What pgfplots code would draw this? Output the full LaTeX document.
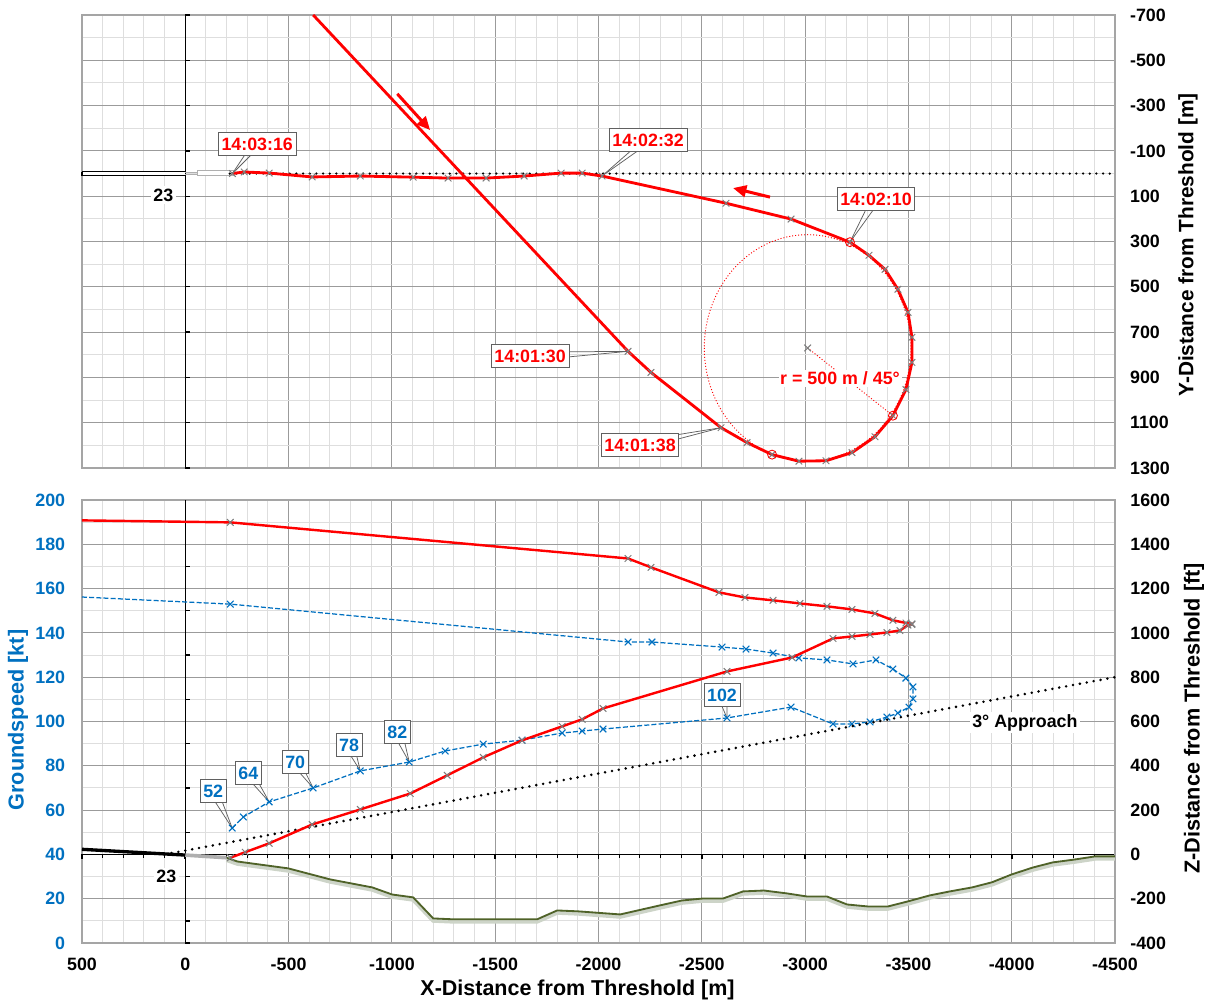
\documentclass[border=0pt]{standalone}
\usepackage{fontspec}
\setmainfont{Liberation Sans}
\usepackage{pgfplots}
\usepackage{pgfplotstable}
\pgfplotsset{compat=1.18}
\usetikzlibrary{arrows.meta}

\definecolor{myred}{RGB}{255,0,0}
\definecolor{myblue}{RGB}{0,112,192}
\definecolor{gmaj}{RGB}{155,155,155}
\definecolor{gmin}{RGB}{222,222,222}
\definecolor{frame}{RGB}{165,165,165}
\definecolor{terr}{RGB}{79,98,40}
\definecolor{shadowc}{RGB}{205,212,200}
\definecolor{mk}{RGB}{125,125,125}
\definecolor{rwgray}{RGB}{175,175,175}

\newcommand{\tfont}{\fontsize{10.7}{12}\selectfont\bfseries}

\pgfplotsset{
  base/.style={
    scale only axis, width=619.8pt,
    xmin=-4500, xmax=500, x dir=reverse,
    xtick={-4500,-4000,...,500},
    minor x tick num=4,
    major tick length=0pt, minor tick length=0pt,
    tick style={draw=none},
    axis line style={draw=frame, line width=0.8pt},
    tick label style={font=\tfont},
    /pgf/number format/assume math mode=true,
    /pgf/number format/1000 sep={},
    clip=false,
  },
  gridded/.style={
    grid=both,
    major grid style={draw=gmaj, line width=0.6pt},
    minor grid style={draw=gmin, line width=0.6pt},
  },
}
\tikzset{callbox/.style={draw=gray!75!black, line width=0.5pt, fill=white, inner xsep=1.9pt, inner ysep=3pt, text height=7.8pt, text depth=0pt, font=\tfont}}

\newcommand{\callout}[8]{%
  \draw[gray!75!black, line width=0.45pt] (axis cs:#2,#3) -- ([shift={(#6,#7)}]axis cs:#4,#5);
  \draw[gray!75!black, line width=0.45pt] (axis cs:#2,#3) -- ([shift={(-#6,-#7)}]axis cs:#4,#5);
  \node[callbox, text=#1] at (axis cs:#4,#5) {#8};
}

\pgfplotstableread{
x y
-619 -700
-2143 785
-2254 878
-2593 1122
-2719 1188
-2840 1241
-2970 1270
-3101 1268
-3227 1232
-3338 1162
-3425 1069
-3488 954
-3517 834
-3517 723
-3498 613
-3449 511
-3387 423
-3309 361
-3217 303
-2932 201
-2617 131
-2017 11
-1921 -2
-1819 -2
-1640 11
-1456 20
-1272 20
-1103 16
-847 11
-614 15
-406 -2
-285 -7
-228 0
}\toptraj

\pgfplotstableread{
x z
500 1508
-218 1499
-2143 1336
-2254 1296
-2583 1183
-2709 1160
-2845 1147
-2975 1133
-3106 1120
-3227 1106
-3338 1088
-3425 1057
-3488 1045
-3517 1041
-3517 1038
-3498 1035
-3459 1011
-3396 1002
-3314 993
-3227 984
-3135 975
-2937 889
-2622 826
-2022 659
-1921 610
-1824 578
-1630 515
-1442 438
-1268 357
-1089 275
-847 203
-614 135
-406 50
-290 10
-218 -15
}\altdata

\pgfplotstableread{
x gs
500 156.2
-218 153.0
-2143 135.9
-2259 135.9
-2598 133.6
-2714 132.7
-2845 130.9
-2970 128.7
-3106 127.8
-3232 126.0
-3343 127.8
-3425 123.7
-3488 119.6
-3522 115.6
-3522 110.2
-3503 106.5
-3449 103.8
-3396 102.0
-3314 99.8
-3227 98.9
-3135 98.9
-2932 106.5
-2622 101.6
-2022 96.6
-1921 95.7
-1824 94.8
-1630 91.6
-1442 89.8
-1258 86.7
-1084 81.7
-847 77.7
-619 70.0
-406 63.7
-281 56.9
-227 51.9
}\gsdata

\pgfplotstableread{
x z
-200 -15
-252 -32
-498 -63
-702 -113
-905 -149
-1001 -181
-1103 -194
-1200 -289
-1297 -293
-1393 -293
-1703 -293
-1800 -253
-1901 -257
-2105 -271
-2298 -230
-2404 -208
-2506 -199
-2603 -199
-2700 -167
-2801 -163
-2912 -176
-3009 -190
-3106 -190
-3203 -226
-3304 -235
-3401 -235
-3498 -212
-3604 -185
-3701 -167
-3808 -149
-3904 -126
-4001 -90
-4103 -59
-4199 -36
-4305 -23
-4403 -9
-4500 -9
}\terrain

\begin{document}
\begin{tikzpicture}
\useasboundingbox (0,0) rectangle (730.2pt,-601.8pt);

% ---------------- top: plan view ----------------
\begin{axis}[base, gridded, at={(49.2pt,-9pt)}, anchor=north west, height=271.8pt,
  ymin=-700, ymax=1300, y dir=reverse,
  ytick={-700,-500,...,1300}, minor y tick num=1,
  yticklabel pos=right, yticklabel style={xshift=5.5pt},
  xticklabels={}, disabledatascaling]
\addplot[black, line width=0.9pt] coordinates {(0,-700) (0,1300)};
\addplot[draw=black, line width=0.9pt, fill=white] coordinates {(500,-9) (0,-9) (0,9) (500,9) (500,-9)};
\addplot[draw=rwgray, line width=0.6pt] coordinates {(0,-5) (-58,-5)};
\addplot[draw=rwgray, line width=0.6pt] coordinates {(0,5) (-58,5)};
\addplot[draw=rwgray, line width=0.7pt, fill=white] coordinates {(-58,-15) (-232,-15) (-232,9) (-58,9) (-58,-15)};
\addplot[black, line width=1.5pt, dash pattern=on 0pt off 4pt, line cap=round] coordinates {(-215,0) (-4500,0)};
\addplot[myred, line width=1.7pt] table {\toptraj};
\addplot[only marks, mark=x, mark size=2.8pt, mark options={mk, line width=0.6pt}, skip coords between index={0}{1}] table {\toptraj};
\addplot[only marks, mark=o, mark size=2.7pt, mark options={myred, line width=0.5pt}] coordinates {(-2840,1241) (-3425,1069) (-3217,303)};
\addplot[only marks, mark=x, mark size=2.8pt, mark options={mk, line width=0.6pt}] coordinates {(-3012,770)};
\pgfplotsinvokeforeach{-700,-500,...,1300}{\draw[black, line width=0.8pt] (axis cs:0,#1) -- ++(3pt,0pt);}
\draw[myred, line width=0.55pt, dash pattern=on 0.6pt off 1.2pt] (axis cs:-3012,770) ellipse [x radius=500, y radius=500];
\draw[myred, line width=0.55pt, dash pattern=on 0.6pt off 1.2pt] (axis cs:-3012,770) -- (axis cs:-3425,1069);
\node[fill=white, inner sep=1pt, text=myred, font=\tfont] at (axis cs:-3169,905) {r = 500 m / 45°};
\draw[myred, line width=1.8pt, -{Triangle[length=8pt,width=7pt]}] (axis cs:-1026,-352) -- (axis cs:-1185,-192);
\draw[myred, line width=1.8pt, -{Triangle[length=8pt,width=7pt]}] (axis cs:-2830,104) -- (axis cs:-2651,64);
\callout{myred}{-228}{0}{-348}{-131}{3pt}{0pt}{14:03:16}
\callout{myred}{-2017}{11}{-2240}{-148}{3pt}{0pt}{14:02:32}
\callout{myred}{-3217}{303}{-3343}{113}{3pt}{0pt}{14:02:10}
\callout{myred}{-2143}{785}{-1669}{807}{0pt}{2.5pt}{14:01:30}
\callout{myred}{-2593}{1122}{-2201}{1198}{0pt}{2.5pt}{14:01:38}
\node[fill=white, inner sep=1.5pt, font=\tfont] at (axis cs:106,95) {23};
\end{axis}

% ---------------- bottom: groundspeed ----------------
\begin{axis}[base, gridded, at={(49.2pt,-300pt)}, anchor=north west, height=265.8pt,
  ymin=0, ymax=200, ytick={0,20,...,200}, minor y tick num=1,
  yticklabel style={text=myblue, xshift=-6.6pt},
  xticklabel style={yshift=-5.4pt}]
\addplot[black, line width=0.9pt] coordinates {(0,0) (0,200)};
\addplot[black, line width=0.9pt] coordinates {(500,40) (-4500,40)};
\addplot[myblue, line width=0.75pt, dash pattern=on 3pt off 1.3pt] table {\gsdata};
\addplot[only marks, mark=x, mark size=2.8pt, mark options={myblue, line width=0.65pt, solid}, skip coords between index={0}{1}] table {\gsdata};
\pgfplotsinvokeforeach{0,10,30,50,70,90,110,130,150,170,190}{\draw[black, line width=0.8pt] (axis cs:0,#1) -- ++(3pt,0pt);}
\pgfplotsinvokeforeach{-4400,-4300,...,400}{\draw[black, line width=0.6pt] (axis cs:#1,40) -- ++(0pt,-2.2pt);}
\pgfplotsinvokeforeach{-4500,-4000,...,500}{\draw[black, line width=1pt] (axis cs:#1,40) -- ++(0pt,-2.8pt);}
\callout{myblue}{-227}{51.9}{-135}{68.6}{3pt}{0pt}{52}
\callout{myblue}{-406}{63.7}{-305}{76.7}{3pt}{0pt}{64}
\callout{myblue}{-619}{70.0}{-532}{81.7}{3pt}{0pt}{70}
\callout{myblue}{-847}{77.7}{-793}{89.4}{3pt}{0pt}{78}
\callout{myblue}{-1084}{81.7}{-1026}{95.3}{3pt}{0pt}{82}
\callout{myblue}{-2622}{101.6}{-2598}{112}{3pt}{0pt}{102}
\end{axis}

% ---------------- bottom: altitude ----------------
\begin{axis}[base, at={(49.2pt,-300pt)}, anchor=north west, height=265.8pt,
  ymin=-400, ymax=1600, ytick={-400,-200,...,1600},
  axis y line*=right, axis x line=none,
  yticklabel style={xshift=5.7pt}]
\addplot[shadowc, line width=2.6pt, yshift=-1.3pt] table {\terrain};
\addplot[terr, line width=1.1pt] table {\terrain};
\addplot[black, line width=2pt] coordinates {(500,23) (0,-3)};
\addplot[rwgray, line width=2.2pt] coordinates {(0,-3) (-200,-15)};
\addplot[black, line width=1.7pt, dash pattern=on 0pt off 4.2pt, line cap=round] coordinates {(100,0) (-4500,800)};
\addplot[myred, line width=1.45pt] table {\altdata};
\addplot[only marks, mark=x, mark size=2.8pt, mark options={mk, line width=0.6pt}, skip coords between index={0}{1}] table {\altdata};
\node[fill=white, inner sep=1.5pt, font=\tfont] at (axis cs:-4064,596) {3° Approach};
\node[fill=white, inner sep=1.5pt, font=\tfont] at (axis cs:92,-99) {23};
\end{axis}

% ---------------- titles ----------------
\node[font=\fontsize{12.9}{15}\selectfont\bfseries] at (346.5pt,-594pt) {X-Distance from Threshold [m]};
\node[rotate=90, text=myblue, font=\fontsize{13}{15}\selectfont\bfseries] at (10.8pt,-432pt) {Groundspeed [kt]};
\node[rotate=90, font=\fontsize{13}{15}\selectfont\bfseries] at (716.4pt,-431pt) {Z-Distance from Threshold [ft]};
\node[rotate=90, font=\fontsize{12.5}{15}\selectfont\bfseries] at (712.8pt,-147pt) {Y-Distance from Threshold [m]};
\end{tikzpicture}
\end{document}
